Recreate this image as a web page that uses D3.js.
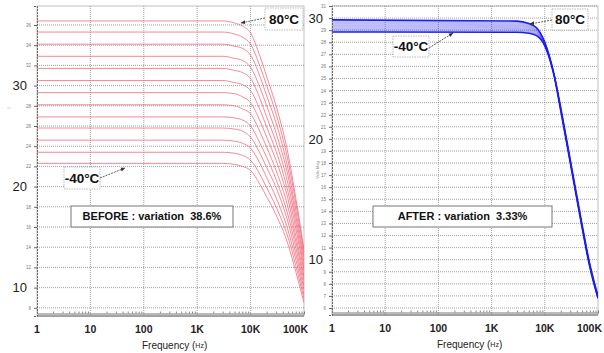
<!DOCTYPE html>
<html>
<head>
<meta charset="utf-8">
<script src="https://cdn.jsdelivr.net/npm/d3@7"></script>
<style>
  body { margin: 0; background: #fff; }
  svg { display: block; font-family: "Liberation Sans", Arial, sans-serif; }
</style>
</head>
<body>
<svg id="chart" width="604" height="353"></svg>
<script>
// frequency points (Hz) shared by every curve
const freqs = [1, 3000, 5000, 7000, 10000, 15000, 20000, 30000, 50000, 70000, 100000];
const temps = [-40, -30, -20, -10, 0, 10, 20, 30, 40, 50, 60, 70, 80];

// BEFORE: one row per temperature (-40 .. 80 C)
const beforeCurves = [
  [22.3, 22.3, 22.2, 22.0, 21.6, 20.2, 19.0, 17.2, 14.3, 11.6, 8.5],
  [23.4, 23.4, 23.3, 23.1, 22.6, 21.2, 19.9, 18.0, 15.0, 12.2, 8.9],
  [24.6, 24.6, 24.5, 24.3, 23.8, 22.3, 20.9, 18.9, 15.7, 12.8, 9.3],
  [25.8, 25.8, 25.7, 25.5, 24.9, 23.3, 21.9, 19.9, 16.5, 13.4, 9.8],
  [26.9, 26.9, 26.8, 26.6, 26.0, 24.3, 22.9, 20.7, 17.2, 14.0, 10.2],
  [28.1, 28.1, 28.0, 27.7, 27.2, 25.4, 23.9, 21.6, 18.0, 14.6, 10.7],
  [29.3, 29.3, 29.2, 28.9, 28.3, 26.5, 24.9, 22.6, 18.8, 15.2, 11.1],
  [30.5, 30.5, 30.3, 30.1, 29.5, 27.6, 25.9, 23.5, 19.5, 15.9, 11.6],
  [31.7, 31.7, 31.5, 31.3, 30.7, 28.7, 26.9, 24.4, 20.3, 16.5, 12.0],
  [32.9, 32.9, 32.7, 32.5, 31.8, 29.8, 28.0, 25.3, 21.1, 17.1, 12.5],
  [34.1, 34.1, 33.9, 33.7, 33.0, 30.9, 29.0, 26.3, 21.8, 17.7, 13.0],
  [35.3, 35.3, 35.1, 34.8, 34.1, 31.9, 30.0, 27.2, 22.6, 18.4, 13.4],
  [36.4, 36.4, 36.2, 35.9, 35.2, 32.9, 30.9, 28.0, 23.3, 18.9, 13.8]
];

// AFTER: one row per temperature (-40 .. 80 C)
const afterCurves = [
  [28.85, 28.83, 28.75, 28.55, 27.70, 25.20, 22.30, 18.05, 12.70, 9.40, 6.80],
  [28.93, 28.91, 28.82, 28.60, 27.73, 25.21, 22.32, 18.07, 12.72, 9.42, 6.82],
  [29.02, 28.98, 28.88, 28.66, 27.75, 25.22, 22.34, 18.09, 12.74, 9.44, 6.83],
  [29.10, 29.06, 28.95, 28.71, 27.78, 25.22, 22.36, 18.11, 12.76, 9.46, 6.85],
  [29.18, 29.14, 29.02, 28.77, 27.80, 25.23, 22.38, 18.13, 12.78, 9.48, 6.87],
  [29.27, 29.21, 29.08, 28.82, 27.83, 25.24, 22.40, 18.15, 12.80, 9.50, 6.88],
  [29.35, 29.29, 29.15, 28.88, 27.85, 25.25, 22.42, 18.17, 12.82, 9.52, 6.90],
  [29.43, 29.37, 29.22, 28.93, 27.88, 25.26, 22.44, 18.19, 12.84, 9.54, 6.92],
  [29.52, 29.44, 29.28, 28.98, 27.90, 25.27, 22.46, 18.21, 12.86, 9.56, 6.93],
  [29.60, 29.52, 29.35, 29.04, 27.93, 25.27, 22.48, 18.23, 12.88, 9.58, 6.95],
  [29.68, 29.60, 29.42, 29.09, 27.95, 25.28, 22.50, 18.25, 12.90, 9.60, 6.97],
  [29.77, 29.67, 29.48, 29.15, 27.98, 25.29, 22.52, 18.27, 12.92, 9.62, 6.98],
  [29.85, 29.75, 29.55, 29.20, 28.00, 25.30, 22.55, 18.30, 12.95, 9.65, 7.00]
];

const xTickValues = [1, 10, 100, 1000, 10000, 100000];
const xTickLabels = ['1', '10', '100', '1K', '10K', '100K'];
const beforeYTicks = [8, 10, 12, 14, 16, 18, 20, 22, 24, 26, 28, 30, 32, 34, 36];
const afterYTicks = [6, 7, 8, 9, 10, 11, 12, 13, 14, 15, 16, 17, 18, 19, 20, 21, 22, 23, 24, 25, 26, 27, 28, 29, 30, 31];
const bigYTicks = [10, 20, 30];

const svg = d3.select('#chart');

svg.append('defs').append('marker')
  .attr('id', 'arrow')
  .attr('viewBox', '0 0 10 10')
  .attr('refX', 9).attr('refY', 5)
  .attr('markerWidth', 6).attr('markerHeight', 6)
  .attr('orient', 'auto')
  .append('path')
  .attr('d', 'M0,1 L10,5 L0,9 z')
  .attr('fill', '#333');

const panels = [
  {
    left: 37, right: 304, top: 6, bottom: 316,
    yDomain: [7.19, 37.88], yTicks: beforeYTicks, curves: beforeCurves,
    stroke: '#f06476', strokeWidth: 0.9, edgeWidth: 0.9, opacity: 0.85, edgeOpacity: 0.85,
    bigX: 27, yTitle: '|', yTitlePos: [10, 108],
    note: 'BEFORE : variation  38.6%', noteBox: [71, 206, 162, 21],
    hot: { box: [265, 8, 38, 22], from: [265, 18], to: [241, 23] },
    cold: { box: [64, 167, 36, 22], from: [100, 178], to: [125, 168] },
    freqLabelX: 142
  },
  {
    left: 332, right: 598, top: 6, bottom: 315,
    yDomain: [5.42, 31], yTicks: afterYTicks, curves: afterCurves,
    stroke: '#1e1ee8', strokeWidth: 0.9, edgeWidth: 1.6, opacity: 0.35, edgeOpacity: 1,
    bigX: 323, yTitle: 'Volts Mag', yTitlePos: [319, 170],
    note: 'AFTER : variation  3.33%', noteBox: [373, 206, 179, 21],
    hot: { box: [552, 9, 36, 21], from: [552, 20], to: [530, 24] },
    cold: { box: [393, 36, 36, 21], from: [429, 48], to: [453, 33] },
    freqLabelX: 437
  }
];

panels.forEach(drawPanel);

function drawPanel(p) {
  const x = d3.scaleLog().domain([1, 100000]).range([p.left, p.right]);
  const y = d3.scaleLinear().domain(p.yDomain).range([p.bottom, p.top]);
  const g = svg.append('g');

  // frame
  g.append('rect')
    .attr('x', p.left).attr('y', p.top)
    .attr('width', p.right - p.left).attr('height', p.bottom - p.top)
    .attr('fill', '#fff').attr('stroke', '#b0b0b0').attr('stroke-width', 0.8);

  // horizontal grid
  g.selectAll('.hgrid')
    .data(p.yTicks)
    .enter().append('line')
    .attr('x1', p.left).attr('x2', p.right)
    .attr('y1', d => y(d)).attr('y2', d => y(d))
    .attr('stroke', '#7a7a7a').attr('stroke-width', 0.7)
    .attr('stroke-dasharray', '1,1');

  // vertical grid (decades)
  g.selectAll('.vgrid')
    .data(xTickValues.slice(1, -1))
    .enter().append('line')
    .attr('x1', d => x(d)).attr('x2', d => x(d))
    .attr('y1', p.top).attr('y2', p.bottom)
    .attr('stroke', '#7a7a7a').attr('stroke-width', 0.7)
    .attr('stroke-dasharray', '1,1');

  // curves
  const line = d3.line()
    .x(d => x(d.f))
    .y(d => y(d.v))
    .curve(d3.curveMonotoneX);

  g.append('clipPath').attr('id', 'clip' + p.left)
    .append('rect')
    .attr('x', p.left).attr('y', p.top)
    .attr('width', p.right - p.left).attr('height', p.bottom - p.top);

  const last = p.curves.length - 1;
  const isEdge = i => i === 0 || i === last;
  g.append('g')
    .attr('clip-path', 'url(#clip' + p.left + ')')
    .selectAll('path')
    .data(p.curves)
    .enter().append('path')
    .attr('d', vals => line(vals.map((v, i) => ({ f: freqs[i], v: v }))))
    .attr('fill', 'none')
    .attr('stroke', p.stroke)
    .attr('stroke-width', (d, i) => isEdge(i) ? p.edgeWidth : p.strokeWidth)
    .attr('stroke-opacity', (d, i) => isEdge(i) ? p.edgeOpacity : p.opacity);

  // left axis
  const yAxis = d3.axisLeft(y)
    .tickValues(p.yTicks)
    .tickSize(3)
    .tickPadding(3)
    .tickFormat(d => bigYTicks.includes(d) ? '' : d);

  g.append('g')
    .attr('transform', 'translate(' + p.left + ',0)')
    .call(yAxis)
    .call(a => a.select('.domain').attr('stroke', '#666').attr('stroke-dasharray', '2,1'))
    .call(a => a.selectAll('line').attr('stroke', '#666'))
    .call(a => a.selectAll('text').attr('font-size', 4.5).attr('fill', '#777'));

  g.selectAll('.bigtick')
    .data(bigYTicks)
    .enter().append('text')
    .attr('x', p.bigX).attr('y', d => y(d))
    .attr('dy', '0.36em')
    .attr('text-anchor', 'end')
    .attr('font-size', 13)
    .attr('fill', '#222')
    .text(d => d);

  g.append('text')
    .attr('transform', 'translate(' + p.yTitlePos[0] + ',' + p.yTitlePos[1] + ') rotate(-90)')
    .attr('text-anchor', 'middle')
    .attr('font-size', 4)
    .attr('fill', '#888')
    .text(p.yTitle);

  // bottom axis: double line with minor ticks
  const minor = x.ticks().filter(d => !xTickValues.includes(d));
  g.append('g')
    .attr('transform', 'translate(0,' + (p.bottom - 2.5) + ')')
    .call(d3.axisTop(x).tickValues(minor).tickSize(2).tickFormat(''))
    .call(a => a.select('.domain').attr('stroke', '#777'))
    .call(a => a.selectAll('line').attr('stroke', '#888'));
  g.append('line')
    .attr('x1', p.left).attr('x2', p.right)
    .attr('y1', p.bottom).attr('y2', p.bottom)
    .attr('stroke', '#666').attr('stroke-width', 1);

  // the last decade label is pulled in so it stays inside the picture
  g.selectAll('.xlab')
    .data(xTickValues)
    .enter().append('text')
    .attr('x', (d, i) => i === xTickValues.length - 1 ? x(d) + 4 : x(d))
    .attr('y', p.bottom + 17)
    .attr('text-anchor', (d, i) => i === xTickValues.length - 1 ? 'end' : 'middle')
    .attr('font-size', 10.5)
    .attr('font-weight', 'bold')
    .attr('fill', '#222')
    .text((d, i) => xTickLabels[i]);

  const fl = g.append('text')
    .attr('x', p.freqLabelX).attr('y', p.bottom + 33)
    .attr('font-size', 10)
    .attr('fill', '#222');
  fl.append('tspan').text('Frequency (');
  fl.append('tspan').attr('font-size', 7).attr('dy', -1.5).text('Hz');
  fl.append('tspan').attr('dy', 1.5).text(')');

  // variation note
  g.append('rect')
    .attr('x', p.noteBox[0]).attr('y', p.noteBox[1])
    .attr('width', p.noteBox[2]).attr('height', p.noteBox[3])
    .attr('fill', '#fff').attr('stroke', '#777').attr('stroke-width', 1);
  g.append('text')
    .attr('x', p.noteBox[0] + p.noteBox[2] / 2).attr('y', p.noteBox[1] + p.noteBox[3] / 2)
    .attr('dy', '0.36em')
    .attr('text-anchor', 'middle')
    .attr('font-size', 11).attr('font-weight', 'bold')
    .attr('fill', '#111')
    .style('white-space', 'pre')
    .text(p.note);

  // temperature labels
  [['80°C', p.hot], ['-40°C', p.cold]].forEach(([label, a]) => {
    g.append('rect')
      .attr('x', a.box[0]).attr('y', a.box[1])
      .attr('width', a.box[2]).attr('height', a.box[3])
      .attr('fill', '#fff').attr('stroke', '#aaa').attr('stroke-width', 0.8)
      .attr('stroke-dasharray', '1.5,1');
    g.append('text')
      .attr('x', a.box[0] + a.box[2] / 2).attr('y', a.box[1] + a.box[3] / 2)
      .attr('dy', '0.36em')
      .attr('text-anchor', 'middle')
      .attr('font-size', 13.5).attr('font-weight', 'bold')
      .attr('fill', '#111')
      .text(label);
    g.append('line')
      .attr('x1', a.from[0]).attr('y1', a.from[1])
      .attr('x2', a.to[0]).attr('y2', a.to[1])
      .attr('stroke', '#333').attr('stroke-width', 0.8)
      .attr('stroke-dasharray', '2,1')
      .attr('marker-end', 'url(#arrow)');
  });
}
</script>
</body>
</html>
